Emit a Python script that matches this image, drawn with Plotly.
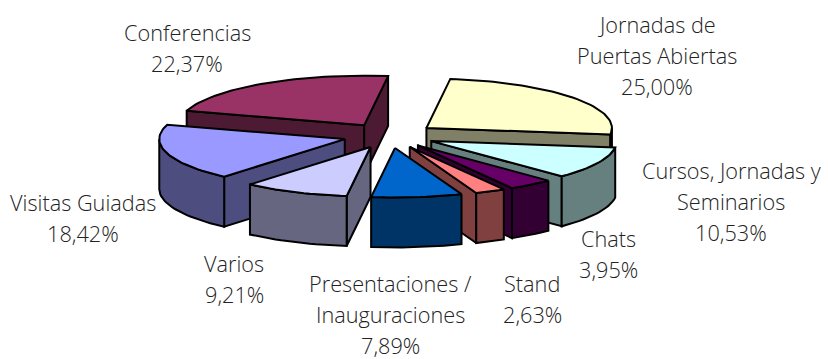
import numpy as np
import plotly.graph_objects as go

categories = ["Jornadas de Puertas Abiertas", "Cursos, Jornadas y Seminarios", "Chats", "Stand",
              "Presentaciones / Inauguraciones", "Varios", "Visitas Guiadas", "Conferencias"]
values = [25.00, 10.53, 3.95, 2.63, 7.89, 9.21, 18.42, 22.37]
top_colors = ["#FFFFCC", "#CCFFFF", "#660066", "#FF8080", "#0066CC", "#CCCCFF", "#9999FF", "#993366"]
wall_colors = ["#808066", "#668080", "#330033", "#804040", "#003366", "#666680", "#4D4D80", "#4D1A33"]
label_lines = [["Jornadas de", "Puertas Abiertas"], ["Cursos, Jornadas y", "Seminarios"], ["Chats"], ["Stand"],
               ["Presentaciones /", "Inauguraciones"], ["Varios"], ["Visitas Guiadas"], ["Conferencias"]]
label_x = [657, 731, 608, 532, 390, 234, 83, 187]
label_y = [24, 170, 238, 283, 283, 263, 202, 32]
draw_order = [7, 0, 6, 1, 5, 2, 3, 4]

CX, CY, R, RY, EXPLODE, DEPTH, START = 389.5, 135.6, 185.5, 49.5, 46.6, 50, 7.4
LINE_GAP, FONT, FONT_SIZE = 31, "Open Sans", 21.7

total = sum(values)
edges = START + np.concatenate([[0], np.cumsum(values)]) / total * 360


def pt(ax, ay, deg):
    t = np.radians(deg)
    return ax + R * np.sin(t), ay - RY * np.cos(t)


fig = go.Figure()


def poly(xs, ys, color):
    fig.add_trace(go.Scatter(x=list(xs) + [xs[0]], y=list(ys) + [ys[0]], mode="lines", fill="toself",
                             fillcolor=color, line=dict(color="black", width=2), hoverinfo="skip",
                             showlegend=False))


def wall(xs, ys, color):
    poly(list(xs) + [x for x in reversed(xs)], list(ys) + [y + DEPTH for y in reversed(ys)], color)


for i in draw_order:
    a0, a1 = edges[i], edges[i + 1]
    mid = np.radians((a0 + a1) / 2)
    ax = CX + EXPLODE * np.sin(mid)
    ay = CY - EXPLODE * RY / R * np.cos(mid)
    sx, sy = pt(ax, ay, a0)
    ex, ey = pt(ax, ay, a1)
    if sx < ax:
        wall([ax, sx], [ay, sy], wall_colors[i])
    if ex > ax:
        wall([ex, ax], [ey, ay], wall_colors[i])
    lo, hi = max(a0, 90), min(a1, 270)
    if hi > lo:
        th = np.linspace(lo, hi, max(2, int((hi - lo) / 2) + 2))
        px, py = pt(ax, ay, th)
        wall(list(px), list(py), wall_colors[i])
    th = np.linspace(a0, a1, max(2, int((a1 - a0) / 2) + 2))
    px, py = pt(ax, ay, th)
    poly([ax] + list(px), [ay] + list(py), top_colors[i])

for i, lines in enumerate(label_lines):
    pct = f"{values[i]:.2f}".replace(".", ",") + "%"
    for j, txt in enumerate(lines + [pct]):
        fig.add_annotation(x=label_x[i], y=label_y[i] + j * LINE_GAP, text=txt, showarrow=False,
                           xanchor="center", yanchor="middle",
                           font=dict(family=FONT, size=FONT_SIZE, color="#222222", weight=300))

fig.update_layout(width=828, height=359, margin=dict(l=0, r=0, t=0, b=0),
                  paper_bgcolor="white", plot_bgcolor="white", showlegend=False,
                  xaxis=dict(range=[0, 828], visible=False, fixedrange=True),
                  yaxis=dict(range=[359, 0], visible=False, fixedrange=True))
fig.write_html("out.html", config={"displayModeBar": False},
               post_script="document.body.style.margin='0';document.documentElement.style.overflow='hidden';")
